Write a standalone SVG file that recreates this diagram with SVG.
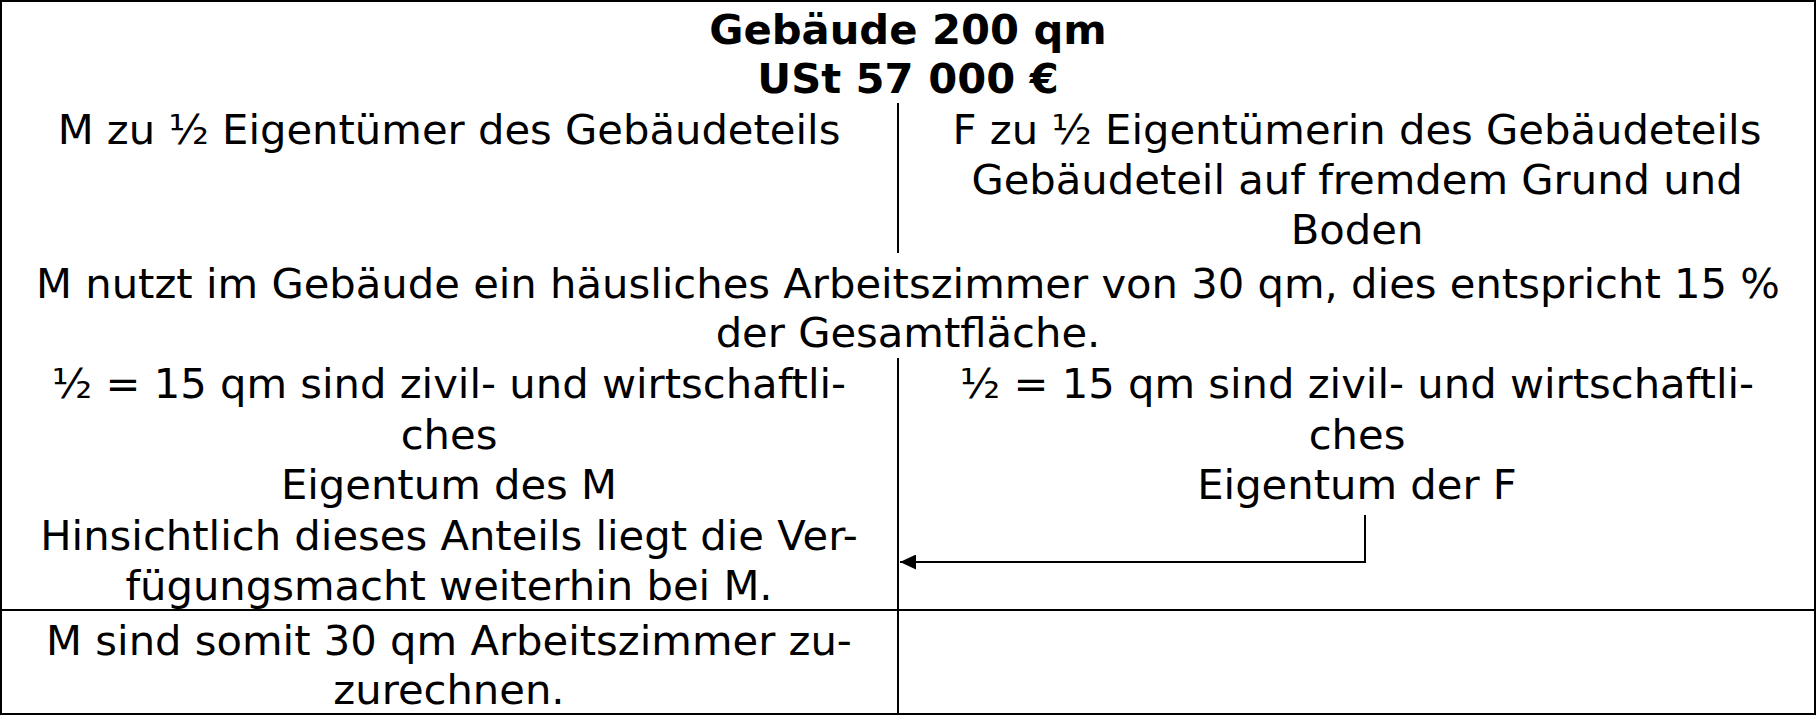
<svg xmlns="http://www.w3.org/2000/svg" width="1816" height="715" viewBox="0 0 1816 715">
<style>
text{font-family:"DejaVu Sans",Verdana,"Liberation Sans",sans-serif;font-size:41.7px;fill:#000;text-anchor:middle}
.b{font-weight:bold}
.ln{stroke:#000;stroke-width:2;fill:none}
</style>
<defs>
<marker id="ah" markerUnits="userSpaceOnUse" markerWidth="16" markerHeight="15" refX="16" refY="7.5" orient="auto">
<path d="M0,0 L16,7.5 L0,15 z" fill="#000"/>
</marker>
</defs>
<rect x="0" y="0" width="1816" height="715" fill="#fff"/>
<g id="frame">
<rect class="ln" x="1" y="1" width="1814" height="713"/>
<line class="ln" x1="898" y1="103" x2="898" y2="253"/>
<line class="ln" x1="898" y1="358" x2="898" y2="715"/>
<line class="ln" x1="0" y1="610" x2="1816" y2="610"/>
</g>
<g id="title">
<text class="b" x="908" y="44">Gebäude 200 qm</text>
<text class="b" x="908" y="93">USt 57 000 €</text>
</g>
<g id="m-owner">
<text x="449" y="144">M zu ½ Eigentümer des Gebäudeteils</text>
</g>
<g id="f-owner">
<text x="1357" y="144">F zu ½ Eigentümerin des Gebäudeteils</text>
<text x="1357" y="194">Gebäudeteil auf fremdem Grund und</text>
<text x="1357" y="244">Boden</text>
</g>
<g id="usage">
<text x="908" y="298">M nutzt im Gebäude ein häusliches Arbeitszimmer von 30 qm, dies entspricht 15 %</text>
<text x="908" y="347">der Gesamtfläche.</text>
</g>
<g id="m-share">
<text x="449" y="398">½ = 15 qm sind zivil- und wirtschaftli-</text>
<text x="449" y="449">ches</text>
<text x="449" y="499">Eigentum des M</text>
<text x="449" y="550">Hinsichtlich dieses Anteils liegt die Ver-</text>
<text x="449" y="600">fügungsmacht weiterhin bei M.</text>
</g>
<g id="f-share">
<text x="1357" y="398">½ = 15 qm sind zivil- und wirtschaftli-</text>
<text x="1357" y="449">ches</text>
<text x="1357" y="499">Eigentum der F</text>
</g>
<g id="result">
<text x="449" y="655">M sind somit 30 qm Arbeitszimmer zu-</text>
<text x="449" y="704">zurechnen.</text>
</g>
<g id="connectors">
<path class="ln" d="M1365,515 V562 H900" marker-end="url(#ah)"/>
</g>
</svg>
